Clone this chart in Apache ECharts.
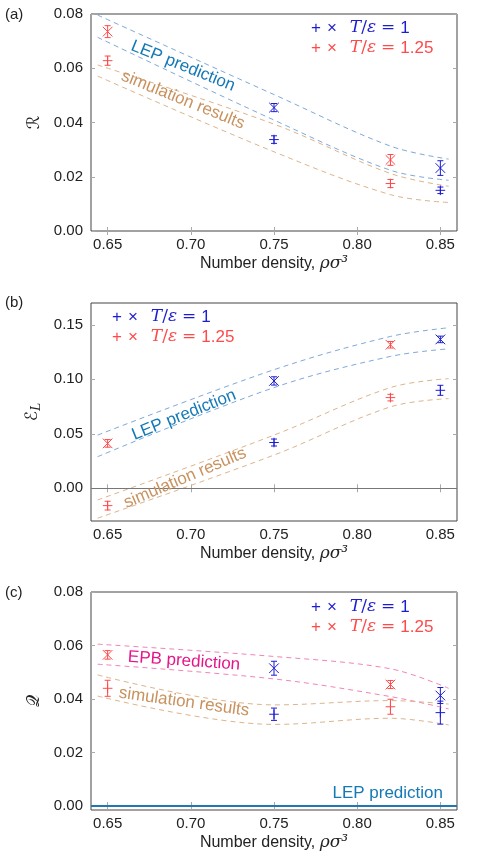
<!DOCTYPE html>
<html>
<head>
<meta charset="utf-8">
<script src="https://cdn.jsdelivr.net/npm/echarts@6/dist/echarts.min.js"></script>
<style>
  html, body { margin: 0; padding: 0; background: #fff; }
  #chart { width: 503px; height: 860px; }
</style>
</head>
<body>
<div id="chart"></div>
<script>
// densities of the four state points, and which temperature each belongs to (0: T=1, 1: T=1.25)
const densities = [0.65, 0.75, 0.82, 0.85];
const tempIdx = [1, 0, 1, 0];
const tempColors = ['#1c1cd2', '#ff4a4a'];
const xTicks = [0.65, 0.70, 0.75, 0.80, 0.85];

// x positions of the dashed bands
const bandX = [0.644, 0.75, 0.82, 0.855];

// (a) R
const crossA = [0.0735, 0.0455, 0.0262, 0.0232];
const crossErrA = [0.0022, 0.0015, 0.0020, 0.0027];
const plusA = [0.0628, 0.0337, 0.0175, 0.0150];
const plusErrA = [0.0017, 0.0014, 0.0015, 0.0012];
const lepUpA = [0.0796, 0.0503, 0.0313, 0.0265];
const lepLoA = [0.0714, 0.0409, 0.0224, 0.0187];
const simUpA = [0.0612, 0.0394, 0.0212, 0.0165];
const simLoA = [0.0571, 0.0292, 0.0134, 0.0105];
const yTicksA = [0, 0.02, 0.04, 0.06, 0.08];

// (b) E_L
const crossB = [0.0412, 0.0985, 0.1317, 0.1366];
const crossErrB = [0.0035, 0.0038, 0.0030, 0.0030];
const plusB = [-0.0159, 0.0420, 0.0832, 0.0899];
const plusErrB = [0.0040, 0.0032, 0.0030, 0.0046];
const lepUpB = [0.0488, 0.1088, 0.1393, 0.1473];
const lepLoB = [0.0290, 0.0924, 0.1210, 0.1280];
const simUpB = [-0.0107, 0.0488, 0.0924, 0.1006];
const simLoB = [-0.0274, 0.0305, 0.0747, 0.0823];
const yTicksB = [0, 0.05, 0.10, 0.15];

// (c) Q
const crossC = [0.0565, 0.0515, 0.0454, 0.0413];
const crossErrC = [0.0016, 0.0026, 0.0015, 0.0030];
const plusC = [0.0440, 0.0343, 0.0371, 0.0349];
const plusErrC = [0.0030, 0.0023, 0.0028, 0.0043];
const epbUpC = [0.0605, 0.0559, 0.0513, 0.0440];
const epbLoC = [0.0530, 0.0475, 0.0409, 0.0363];
const simUpC = [0.0490, 0.0378, 0.0394, 0.0381];
const simLoC = [0.0411, 0.0305, 0.0328, 0.0303];
const yTicksC = [0, 0.02, 0.04, 0.06, 0.08];

const LEP_LINE = '#7ea9d8';
const SIM_LINE = '#ddb48c';
const EPB_LINE = '#f184b6';
const LEP_TEXT = '#1479b5';
const SIM_TEXT = '#c8925f';
const EPB_TEXT = '#e6148a';
const SANS = '"Liberation Sans", Helvetica, Arial, sans-serif';
const SERIF = '"DejaVu Serif", "Liberation Serif", serif';

const grids = [
    {left: 91, top: 14, width: 366, height: 217},
    {left: 91, top: 303, width: 366, height: 218},
    {left: 91, top: 592, width: 366, height: 218}
];
const yRanges = [[0, 0.08], [-0.03, 0.17], [-0.0015, 0.08]];
const yTicks = [yTicksA, yTicksB, yTicksC];
const yNames = [
    '{c|ℛ}',
    '{c|ℰ}{s|L}',
    '{c|𝒬}'
];

function pairs(xs, ys) {
    return xs.map((x, i) => [x, ys[i]]);
}

function errData(vals, errs) {
    return densities.map((d, i) => [d, vals[i], errs[i], tempIdx[i]]);
}

function errRender(kind) {
    return function (params, api) {
        const x = api.value(0), y = api.value(1), e = api.value(2);
        const col = tempColors[api.value(3)];
        const c = api.coord([x, y]);
        const top = api.coord([x, y + e]);
        const bot = api.coord([x, y - e]);
        const s = {stroke: col, lineWidth: 1, fill: null};
        const cw = 3;
        const m = 4.8;
        const kids = [
            {type: 'line', shape: {x1: c[0], y1: top[1], x2: c[0], y2: bot[1]}, style: s},
            {type: 'line', shape: {x1: c[0] - cw, y1: top[1], x2: c[0] + cw, y2: top[1]}, style: s},
            {type: 'line', shape: {x1: c[0] - cw, y1: bot[1], x2: c[0] + cw, y2: bot[1]}, style: s}
        ];
        if (kind === 'x') {
            kids.push({type: 'line', shape: {x1: c[0] - m, y1: c[1] - m, x2: c[0] + m, y2: c[1] + m}, style: s});
            kids.push({type: 'line', shape: {x1: c[0] - m, y1: c[1] + m, x2: c[0] + m, y2: c[1] - m}, style: s});
        } else {
            kids.push({type: 'line', shape: {x1: c[0] - m, y1: c[1], x2: c[0] + m, y2: c[1]}, style: s});
            kids.push({type: 'line', shape: {x1: c[0], y1: c[1] - m, x2: c[0], y2: c[1] + m}, style: s});
        }
        return {type: 'group', children: kids};
    };
}

function band(idx, ys, color, extra) {
    return Object.assign({
        type: 'line',
        xAxisIndex: idx * 2,
        yAxisIndex: idx * 2,
        data: pairs(bandX, ys),
        smooth: 0.35,
        showSymbol: false,
        silent: true,
        lineStyle: {color: color, width: 1, type: [5, 4]},
        z: 2
    }, extra || {});
}

function errSeries(idx, vals, errs, kind) {
    return {
        type: 'custom',
        xAxisIndex: idx * 2,
        yAxisIndex: idx * 2,
        data: errData(vals, errs),
        encode: {x: 0, y: 1},
        renderItem: errRender(kind),
        silent: true,
        z: 5
    };
}

const xAxes = [];
const yAxes = [];
grids.forEach((g, i) => {
    const tick = {show: true, inside: true, length: 4, lineStyle: {color: '#aaa'}};
    xAxes.push({
        gridIndex: i, type: 'value', min: 0.64, max: 0.86, position: 'bottom',
        axisLine: {show: false},
        axisTick: Object.assign({customValues: xTicks}, tick),
        axisLabel: {customValues: xTicks, formatter: v => v.toFixed(2), fontSize: 15,
            color: '#222', fontFamily: SANS, margin: 6},
        splitLine: {show: false},
        name: '{t|Number density, }{m|ρσ³}',
        nameLocation: 'middle',
        nameGap: 24,
        nameTextStyle: {
            rich: {
                t: {fontSize: 16, fontFamily: SANS, color: '#222'},
                m: {fontSize: 17, fontFamily: SERIF, fontStyle: 'italic', color: '#222'}
            }
        }
    });
    xAxes.push({
        gridIndex: i, type: 'value', min: 0.64, max: 0.86, position: 'top',
        axisLine: {show: false},
        axisTick: Object.assign({customValues: xTicks}, tick),
        axisLabel: {show: false},
        splitLine: {show: false}
    });
    yAxes.push({
        gridIndex: i, type: 'value', min: yRanges[i][0], max: yRanges[i][1], position: 'left',
        axisLine: {show: false},
        axisTick: Object.assign({customValues: yTicks[i]}, tick),
        axisLabel: {customValues: yTicks[i], formatter: v => v.toFixed(2), fontSize: 15,
            color: '#222', fontFamily: SANS, margin: 8},
        splitLine: {show: false},
        name: yNames[i],
        nameLocation: 'middle',
        nameRotate: 90,
        nameGap: 47,
        nameTextStyle: {
            rich: {
                c: {fontSize: 17, fontFamily: '"DejaVu Sans", ' + SERIF, color: '#222'},
                s: {fontSize: 12, fontFamily: SERIF, fontStyle: 'italic', color: '#222', padding: [8, 0, 0, 0]}
            }
        }
    });
    yAxes.push({
        gridIndex: i, type: 'value', min: yRanges[i][0], max: yRanges[i][1], position: 'right',
        axisLine: {show: false},
        axisTick: Object.assign({customValues: yTicks[i]}, tick),
        axisLabel: {show: false},
        splitLine: {show: false}
    });
});

function legendRows(x, y) {
    const rows = [['1', 0], ['1.25', 1]];
    return rows.map((r, k) => {
        const col = tempColors[r[1]];
        return {
            type: 'text',
            x: x, y: y + k * 20,
            style: {
                text: '{p|+}{q|×}{i|T}{n|/}{i|ε}{e|=}{v|' + r[0] + '}',
                fill: col,
                verticalAlign: 'middle',
                rich: {
                    p: {fontSize: 17, fontFamily: SANS, fill: col, padding: [0, 6, 0, 0]},
                    q: {fontSize: 17, fontFamily: SANS, fill: col, padding: [0, 13, 0, 0]},
                    i: {fontSize: 17, fontFamily: SERIF, fontStyle: 'italic', fill: col},
                    n: {fontSize: 17, fontFamily: SERIF, fill: col},
                    e: {fontSize: 17, fontFamily: SERIF, fill: col, padding: [0, 5, 0, 5]},
                    v: {fontSize: 17, fontFamily: SANS, fill: col}
                }
            },
            z: 10
        };
    });
}

function note(text, x, y, deg, color) {
    return {
        type: 'text', x: x, y: y, rotation: deg * Math.PI / 180,
        style: {text: text, fill: color, font: '17px ' + SANS, align: 'center', verticalAlign: 'middle'},
        z: 10
    };
}

function panelLabel(text, y) {
    return {type: 'text', x: 5, y: y, style: {text: text, fill: '#222', font: '15px ' + SANS, verticalAlign: 'middle'}};
}

const chart = echarts.init(document.getElementById('chart'), null, {renderer: 'canvas'});
chart.setOption({
    animation: false,
    backgroundColor: '#fff',
    grid: grids.map(g => Object.assign({show: true, borderColor: '#444', borderWidth: 1, backgroundColor: 'transparent'}, g)),
    xAxis: xAxes,
    yAxis: yAxes,
    graphic: [
        panelLabel('(a)', 15),
        panelLabel('(b)', 303),
        panelLabel('(c)', 593),
        ...legendRows(311, 28),
        ...legendRows(112, 317),
        ...legendRows(311, 607),
        note('LEP prediction', 183, 66, -22, LEP_TEXT),
        note('simulation results', 183, 100, -22, SIM_TEXT),
        note('LEP prediction', 184, 415, 22, LEP_TEXT),
        note('simulation results', 185, 478, 23, SIM_TEXT),
        note('EPB prediction', 184, 661, -4, EPB_TEXT),
        note('simulation results', 184, 702, -8, SIM_TEXT)
    ],
    series: [
        band(0, lepUpA, LEP_LINE), band(0, lepLoA, LEP_LINE),
        band(0, simUpA, SIM_LINE), band(0, simLoA, SIM_LINE),
        errSeries(0, crossA, crossErrA, 'x'), errSeries(0, plusA, plusErrA, '+'),

        band(1, lepUpB, LEP_LINE, {
            markLine: {
                silent: true, symbol: 'none', animation: false,
                data: [{yAxis: 0}],
                lineStyle: {color: '#777', width: 1, type: 'solid'},
                label: {show: false}
            }
        }),
        band(1, lepLoB, LEP_LINE),
        band(1, simUpB, SIM_LINE), band(1, simLoB, SIM_LINE),
        errSeries(1, crossB, crossErrB, 'x'), errSeries(1, plusB, plusErrB, '+'),

        band(2, epbUpC, EPB_LINE, {
            markLine: {
                silent: true, symbol: 'none', animation: false,
                data: [{yAxis: 0}],
                lineStyle: {color: '#1f78b0', width: 2, type: 'solid'},
                label: {show: true, position: 'insideEndTop', formatter: 'LEP prediction',
                    color: LEP_TEXT, fontSize: 17, fontFamily: SANS, distance: [14, 4]}
            }
        }),
        band(2, epbLoC, EPB_LINE),
        band(2, simUpC, SIM_LINE), band(2, simLoC, SIM_LINE),
        errSeries(2, crossC, crossErrC, 'x'), errSeries(2, plusC, plusErrC, '+')
    ]
});
</script>
</body>
</html>
